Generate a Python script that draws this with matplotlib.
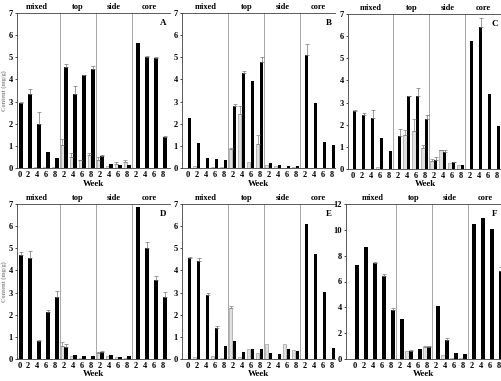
import matplotlib
matplotlib.use("Agg")
import matplotlib.pyplot as plt
import matplotlib.transforms as mtransforms
import numpy as np

plt.rcParams["font.family"] = ["Liberation Serif", "DejaVu Serif"]
plt.rcParams["font.weight"] = "bold"

# x categories: mixed (0-8), then top / side / core (2-8)
week_labels = ["0", "2", "4", "6", "8"] + ["2", "4", "6", "8"] * 3
groups = ["mixed", "top", "side", "core"]
group_centers = [2.0, 6.5, 10.5, 14.5]
dividers = [4.5, 8.5, 12.5]

# values; *_err = upper error bar length
a_light = [0, 0.02, 0.03, 0.03, 0.05, 1.05, 0.5, 0.35, 0.6, 0.35, 0.1, 0.2, 0.25, 0, 0, 0, 0]
a_light_err = [0, 0, 0, 0, 0, 0.25, 0.2, 0.02, 0.1, 0.15, 0, 0.05, 0.1, 0, 0, 0, 0]
a_black = [2.95, 3.35, 2.0, 0.72, 0.45, 4.55, 3.35, 4.2, 4.45, 0.55, 0.2, 0.15, 0.12, 5.65, 5.0, 4.95, 1.38]
a_black_err = [0.03, 0.2, 0.55, 0, 0, 0.15, 0.35, 0.02, 0.15, 0.05, 0, 0, 0, 0, 0.08, 0.05, 0.07]

b_light = [0, 0.1, 0, 0.03, 0.05, 0.88, 2.45, 0.25, 1.1, 0.12, 0.08, 0.02, 0.05, 0, 0, 0, 0]
b_light_err = [0, 0, 0, 0, 0, 0.02, 0.35, 0, 0.4, 0, 0, 0, 0, 0, 0, 0, 0]
b_black = [2.28, 1.15, 0.43, 0.4, 0.38, 2.8, 4.3, 3.95, 4.8, 0.22, 0.15, 0.08, 0.08, 5.1, 2.95, 1.18, 1.02]
b_black_err = [0, 0, 0, 0, 0, 0.08, 0.1, 0, 0.2, 0, 0, 0, 0, 0.5, 0, 0, 0]

c_light = [0, 0.02, 0.02, 0.1, 0.02, 0.02, 1.55, 1.7, 0.95, 0.35, 0.85, 0.25, 0.18, 0, 0, 0, 0]
c_light_err = [0, 0, 0, 0, 0, 0, 0.2, 0.55, 0.15, 0.1, 0.03, 0, 0, 0, 0, 0, 0]
c_black = [2.6, 2.42, 2.32, 1.4, 0.83, 1.5, 3.28, 3.3, 2.25, 0.42, 0.78, 0.3, 0.2, 5.78, 6.4, 3.4, 1.92]
c_black_err = [0.05, 0.13, 0.36, 0, 0, 0.3, 0.02, 0.38, 0.2, 0.13, 0.07, 0.03, 0, 0, 0.4, 0, 0]

d_light = [0.03, 0, 0, 0, 0, 0.58, 0.15, 0.05, 0.02, 0.28, 0.15, 0.08, 0.03, 0, 0, 0, 0]
d_light_err = [0, 0, 0, 0, 0, 0.2, 0, 0, 0, 0.04, 0, 0, 0, 0, 0, 0, 0]
d_black = [4.68, 4.58, 0.82, 2.12, 2.82, 0.55, 0.18, 0.12, 0.15, 0.32, 0.18, 0.1, 0.15, 6.85, 5.0, 3.58, 2.8]
d_black_err = [0.14, 0.3, 0.03, 0.08, 0.23, 0.13, 0, 0, 0, 0.03, 0, 0, 0, 0, 0.3, 0.17, 0.22]

e_light = [0, 0.1, 0, 0.15, 0.05, 2.3, 0.08, 0.45, 0.25, 0.7, 0.02, 0.68, 0.42, 0, 0, 0, 0]
e_light_err = [0, 0, 0, 0, 0, 0.08, 0, 0, 0, 0, 0, 0, 0, 0, 0, 0, 0]
e_black = [4.55, 4.42, 2.9, 1.42, 0.58, 0.8, 0.3, 0.45, 0.45, 0.25, 0.22, 0.45, 0.38, 6.1, 4.75, 3.02, 0.5]
e_black_err = [0.05, 0.13, 0.07, 0.06, 0, 0, 0, 0, 0, 0, 0, 0, 0, 0, 0, 0, 0]

f_light = [0, 0, 0, 0, 0, 0, 0.6, 0.02, 0.95, 0, 0.3, 0.1, 0.05, 0, 0, 0, 0]
f_light_err = [0, 0, 0, 0, 0, 0, 0, 0, 0.03, 0, 0, 0, 0, 0, 0, 0, 0]
f_black = [7.3, 8.65, 7.4, 6.4, 3.8, 3.1, 0.65, 0.8, 0.9, 4.1, 1.5, 0.45, 0.35, 10.45, 10.95, 10.1, 6.8]
f_black_err = [0, 0, 0.1, 0.15, 0.15, 0, 0.05, 0, 0.08, 0, 0.15, 0, 0, 0, 0, 0, 0.3]

panels = [
    ("A", a_light, a_light_err, a_black, a_black_err),
    ("B", b_light, b_light_err, b_black, b_black_err),
    ("C", c_light, c_light_err, c_black, c_black_err),
    ("D", d_light, d_light_err, d_black, d_black_err),
    ("E", e_light, e_light_err, e_black, e_black_err),
    ("F", f_light, f_light_err, f_black, f_black_err),
]

W, H = 501, 381
UNIT = 9.0  # px per category
# (left px, top px, xmin, xmax)
layout = [
    (17, 13, -0.25, 16.8),
    (182, 13, -0.65, 16.4),
    (348, 14, -0.55, 16.6),
    (17, 204, -0.25, 16.8),
    (182, 204, -0.65, 16.4),
    (346, 204, -1.0, 16.3),
]
AX_H = 155

fig = plt.figure(figsize=(W / 100, H / 100), dpi=100)
x = np.arange(len(week_labels))
bw = 0.34
fs = 6

for (letter, light, light_err, black, black_err), (lp, tp, x0, x1) in zip(panels, layout):
    wpx = (x1 - x0) * UNIT
    ax = fig.add_axes([lp / W, (H - tp - AX_H) / H, wpx / W, AX_H / H])
    ymax = 12 if letter == "F" else 7

    ax.bar(x - 0.22, light, bw, color="0.88", edgecolor="0.55", linewidth=0.4, zorder=2)
    ax.bar(x + 0.2, black, 0.38, color="black", linewidth=0, zorder=2)
    le = np.array(light_err)
    be = np.array(black_err)
    m = le > 0
    ax.errorbar(x[m] - 0.22, np.array(light)[m], yerr=[np.zeros(m.sum()), le[m]],
                fmt="none", ecolor="0.5", elinewidth=0.5, capsize=1.2, capthick=0.5, zorder=3)
    m = be > 0
    ax.errorbar(x[m] + 0.2, np.array(black)[m], yerr=[np.zeros(m.sum()), be[m]],
                fmt="none", ecolor="0.45", elinewidth=0.5, capsize=1.2, capthick=0.5, zorder=3)

    for d in dividers:
        ax.axvline(d, color="0.6", lw=0.6, zorder=1)

    ax.set_xlim(x0, x1)
    ax.set_ylim(0, ymax)
    ax.set_xticks(x)
    ax.set_xticklabels(week_labels)
    if ymax == 12:
        ax.set_yticks(np.arange(0, 13, 2))
    else:
        ax.set_yticks(np.arange(0, 8, 1))
    ax.tick_params(axis="x", length=0, pad=2, labelsize=fs)
    ax.tick_params(axis="y", length=1.5, width=0.5, pad=1.5, labelsize=fs)
    ax.spines["right"].set_visible(False)
    for s in ["left", "top", "bottom"]:
        ax.spines[s].set_linewidth(0.6)
        ax.spines[s].set_color("0.25")

    tr = mtransforms.blended_transform_factory(ax.transData, ax.transAxes)
    for g, c in zip(groups, group_centers):
        ax.text(c, 1.04, g, transform=tr, ha="center", va="center",
                fontsize=fs, fontweight="bold", clip_on=False)
    ax.text(0.975, 0.935, letter, transform=ax.transAxes, ha="right", va="center",
            fontsize=6.5, fontweight="bold")
    ax.text(0.5, -0.1, "Week", transform=ax.transAxes, ha="center", va="center",
            fontsize=6.5, fontweight="bold")

# y label, faint and squeezed against the left edge as in the original
for tp in (13, 204):
    fig.text(4 / W, (H - tp - AX_H / 2) / H, "Content (mg/g)", rotation=90,
             ha="center", va="center", fontsize=4.5, fontweight="bold", color="0.55")

fig.savefig("out.png", dpi=100)
